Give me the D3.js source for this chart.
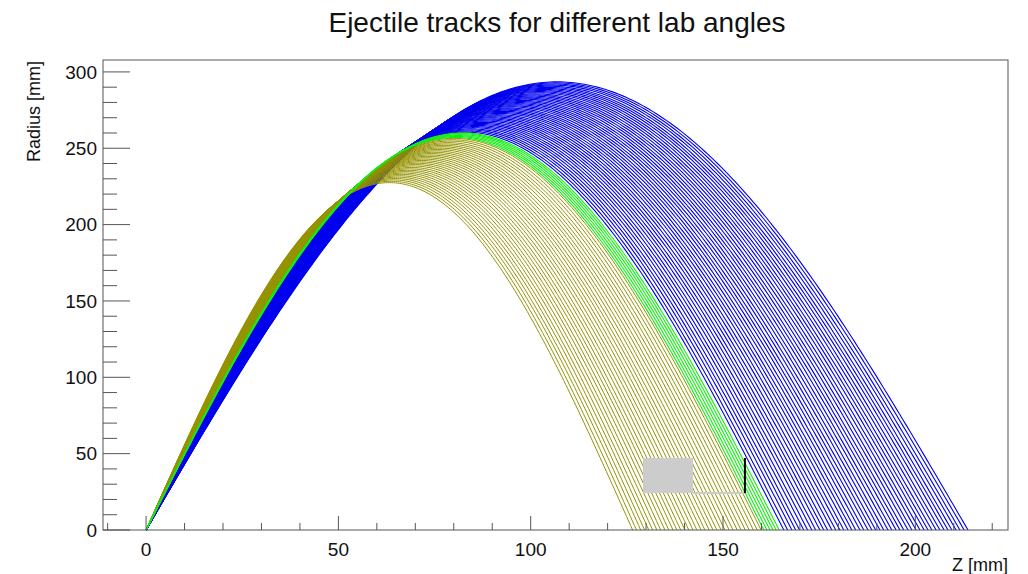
<!DOCTYPE html>
<html>
<head>
<script src="https://d3js.org/d3.v7.min.js"></script>
<style>
  body { margin: 0; background: #fff; font-family: "Liberation Sans", Arial, sans-serif; }
</style>
</head>
<body>
<svg id="chart" width="1028" height="574"></svg>
<script>
// track end point on the axis (Z, mm) and maximum radius (mm)
var yellowEnd = [126.5, 127.5, 128.6, 129.6, 130.7, 131.7, 132.8, 133.8, 134.9, 135.9, 137.0, 138.0, 139.0, 140.1, 141.1, 142.2, 143.2, 144.3, 145.3, 146.4, 147.4, 148.4, 149.5, 150.5, 151.6, 152.6, 153.7, 154.7, 155.8, 156.8, 157.9, 158.9, 159.9];
var yellowMax = [227.5, 228.4, 229.3, 230.2, 231.1, 232.0, 232.9, 233.8, 234.7, 235.6, 236.5, 237.4, 238.4, 239.3, 240.2, 241.1, 242.0, 242.9, 243.8, 244.7, 245.6, 246.5, 247.4, 248.3, 249.2, 250.1, 251.0, 251.9, 252.8, 253.7, 254.7, 255.6, 256.5];
var greenEnd = [160.6, 161.4, 162.2, 163.0, 163.8, 164.6];
var greenMax = [257.1, 257.7, 258.3, 258.9, 259.5, 260.0];
var blueEnd = [165.8, 166.8, 167.9, 168.9, 169.9, 171.0, 172.0, 173.1, 174.1, 175.2, 176.2, 177.2, 178.3, 179.3, 180.4, 181.4, 182.5, 183.5, 184.5, 185.6, 186.6, 187.7, 188.7, 189.7, 190.8, 191.8, 192.9, 193.9, 195.0, 196.0, 197.0, 198.1, 199.1, 200.2, 201.2, 202.3, 203.3, 204.3, 205.4, 206.4, 207.5, 208.5, 209.5, 210.6, 211.6, 212.7, 213.7];
var blueMax = [260.6, 261.3, 262.0, 262.7, 263.5, 264.2, 264.9, 265.6, 266.3, 267.0, 267.8, 268.5, 269.2, 269.9, 270.6, 271.3, 272.0, 272.8, 273.5, 274.2, 274.9, 275.6, 276.3, 277.1, 277.8, 278.5, 279.2, 279.9, 280.6, 281.3, 282.1, 282.8, 283.5, 284.2, 284.9, 285.6, 286.4, 287.1, 287.8, 288.5, 289.2, 289.9, 290.6, 291.4, 292.1, 292.8, 293.5];

// detector outline (Z, R in mm)
var boxZ = [129.2, 142.2], boxR = [24.2, 47.2];
var wallZ = 155.7;

var xMajor = [0, 50, 100, 150, 200];
var yMajor = [0, 50, 100, 150, 200, 250, 300];

var svg = d3.select("#chart");
var x = d3.scaleLinear().domain([-11.2, 224.1]).range([103, 1008]);
var y = d3.scaleLinear().domain([0, 307.8]).range([530, 60]);

svg.append("rect").attr("width", 1028).attr("height", 574).attr("fill", "#fff");

var line = d3.line().x(function (d) { return x(d[0]); }).y(function (d) { return y(d[1]); });

// helix projection: r = rmax * sin(pi * z / zend)
function track(zend, rmax) {
  var pts = [];
  for (var k = 0; k <= 240; k++) {
    var z = zend * k / 240;
    pts.push([z, rmax * Math.sin(Math.PI * z / zend)]);
  }
  return pts;
}

var plot = svg.append("g");
function drawSet(ends, maxs, col, w) {
  for (var i = 0; i < ends.length; i++) {
    plot.append("path")
      .attr("d", line(track(ends[i], maxs[i])))
      .attr("fill", "none")
      .attr("stroke", col)
      .attr("stroke-width", w);
  }
}
drawSet(blueEnd, blueMax, "#0000ee", 1.1);
drawSet(yellowEnd, yellowMax, "#959200", 1.0);
drawSet(greenEnd, greenMax, "#11ee11", 1.1);

// detector
plot.append("rect")
  .attr("x", x(boxZ[0])).attr("y", y(boxR[1]))
  .attr("width", x(boxZ[1]) - x(boxZ[0])).attr("height", y(boxR[0]) - y(boxR[1]))
  .attr("fill", "#cccccc");
plot.append("line")
  .attr("x1", x(boxZ[1])).attr("x2", x(wallZ))
  .attr("y1", y(boxR[0])).attr("y2", y(boxR[0]))
  .attr("stroke", "#cccccc").attr("stroke-width", 2);
plot.append("line")
  .attr("x1", x(wallZ)).attr("x2", x(wallZ))
  .attr("y1", y(boxR[0])).attr("y2", y(boxR[1]))
  .attr("stroke", "#000").attr("stroke-width", 2);

// frame
svg.append("rect")
  .attr("x", 103).attr("y", 60).attr("width", 905).attr("height", 470)
  .attr("fill", "none").attr("stroke", "#555").attr("stroke-width", 1);

// x axis ticks
var xMinor = d3.range(-10, 221, 10);
svg.append("g").selectAll("line").data(xMinor).enter().append("line")
  .attr("x1", function (d) { return x(d); }).attr("x2", function (d) { return x(d); })
  .attr("y1", 530).attr("y2", function (d) { return d % 50 === 0 ? 516 : 523; })
  .attr("stroke", "#555");
svg.append("g").selectAll("text").data(xMajor).enter().append("text")
  .attr("x", function (d) { return x(d); }).attr("y", 556)
  .attr("text-anchor", "middle").attr("font-size", 19).attr("fill", "#111")
  .text(function (d) { return d; });

// y axis ticks
var yMinor = d3.range(0, 301, 10);
svg.append("g").selectAll("line").data(yMinor).enter().append("line")
  .attr("y1", function (d) { return y(d); }).attr("y2", function (d) { return y(d); })
  .attr("x1", 103).attr("x2", function (d) { return d % 50 === 0 ? 130 : 117; })
  .attr("stroke", "#555");
svg.append("g").selectAll("text").data(yMajor).enter().append("text")
  .attr("x", 97).attr("y", function (d) { return y(d); }).attr("dy", "0.35em")
  .attr("text-anchor", "end").attr("font-size", 19).attr("fill", "#111")
  .text(function (d) { return d; });

// titles
svg.append("text").attr("x", 557).attr("y", 32).attr("text-anchor", "middle")
  .attr("font-size", 28).attr("fill", "#111").text("Ejectile tracks for different lab angles");
svg.append("text").attr("transform", "translate(40,61) rotate(-90)").attr("text-anchor", "end")
  .attr("font-size", 18).attr("fill", "#111").text("Radius [mm]");
svg.append("text").attr("x", 1008).attr("y", 571).attr("text-anchor", "end")
  .attr("font-size", 18).attr("fill", "#111").text("Z [mm]");
</script>
</body>
</html>
